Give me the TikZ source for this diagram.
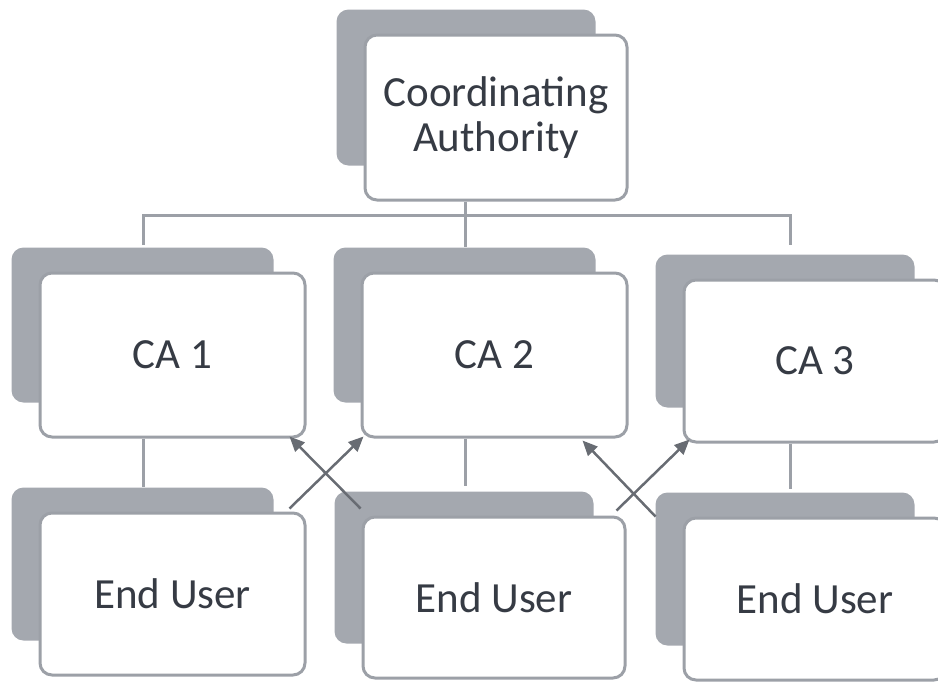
\documentclass[tikz,border=0pt]{standalone}
\usepackage{fontspec}
\setmainfont{Carlito}
\usetikzlibrary{backgrounds,arrows.meta}
\definecolor{boxline}{HTML}{9CA0A7}
\definecolor{shadowfill}{HTML}{A4A8AF}
\definecolor{txt}{HTML}{363B44}
\definecolor{arr}{HTML}{686C73}
\tikzset{
  box/.style={draw=boxline, line width=3pt, fill=white, rounded corners=12pt,
    text=txt, font=\fontsize{43}{45}\selectfont, align=center, inner sep=0pt},
  conn/.style={draw=boxline, line width=3pt},
  arrowline/.style={draw=arr, line width=2.5pt, -{Triangle[length=15pt,width=13pt]}},
  shadowbox/.style={fill=shadowfill, rounded corners=12pt}
}
\newcommand{\backshadow}[1]{%
  \fill[shadowbox] ([xshift=-27pt,yshift=24pt]#1.north west) rectangle ([xshift=-33pt,yshift=36pt]#1.south east);}
\begin{document}
\begin{tikzpicture}[x=1pt,y=-1pt]
\useasboundingbox (0,0) rectangle (938,681);

% boxes
\node[box, minimum width=262pt, minimum height=165pt] (ca) at (496,117.5) {Coordinating\\Authority};
\node[box, minimum width=265pt, minimum height=164pt] (ca1) at (172.5,355) {CA 1};
\node[box, minimum width=265pt, minimum height=164pt] (ca2) at (494.5,355) {CA 2};
\node[box, minimum width=262pt, minimum height=162pt] (ca3) at (815,361) {CA 3};
\node[box, minimum width=265pt, minimum height=162pt] (eu1) at (172.5,594) {End User};
\node[box, minimum width=262pt, minimum height=161pt] (eu2) at (494,597.5) {End User};
\node[box, minimum width=262pt, minimum height=162pt] (eu3) at (815,599) {End User};

\begin{scope}[on background layer]
  \backshadow{ca}
  \backshadow{ca1}
  \backshadow{ca2}
  \backshadow{ca3}
  \backshadow{eu1}
  \backshadow{eu2}
  \backshadow{eu3}
\end{scope}

% tree connectors
\coordinate (t0) at ([xshift=-31pt]ca.south);
\coordinate (t1) at ([xshift=-29.5pt]ca1.south);
\coordinate (t2) at ([xshift=-29.5pt]ca2.south);
\coordinate (t3) at ([xshift=-25pt]ca3.south);
\coordinate (busl) at (143,215);
\coordinate (busr) at (790,215);
\draw[conn] (t0) -- ++(0,45);
\draw[conn] (busl) ++(0,30) -- (busl) -- (busr) -- ++(0,30);
\draw[conn] (t1) -- ++(0,48);
\draw[conn] (t2) -- ++(0,47);
\draw[conn] (t3) -- ++(0,45);

% cross arrows
\draw[arrowline] ([xshift=-1pt,yshift=7pt]eu2.north west) -- ([xshift=-17pt,yshift=2pt]ca1.south east);
\draw[arrowline] ([xshift=-17pt,yshift=3pt]eu1.north east) -- ([xshift=3pt,yshift=2pt]ca2.south west);
\draw[arrowline] ([xshift=-27pt]eu3.north west) -- ([xshift=-46pt,yshift=-2pt]ca2.south east);
\draw[arrowline] ([xshift=-10pt,yshift=5pt]eu2.north east) -- ([xshift=7pt,yshift=4pt]ca3.south west);
\end{tikzpicture}
\end{document}
